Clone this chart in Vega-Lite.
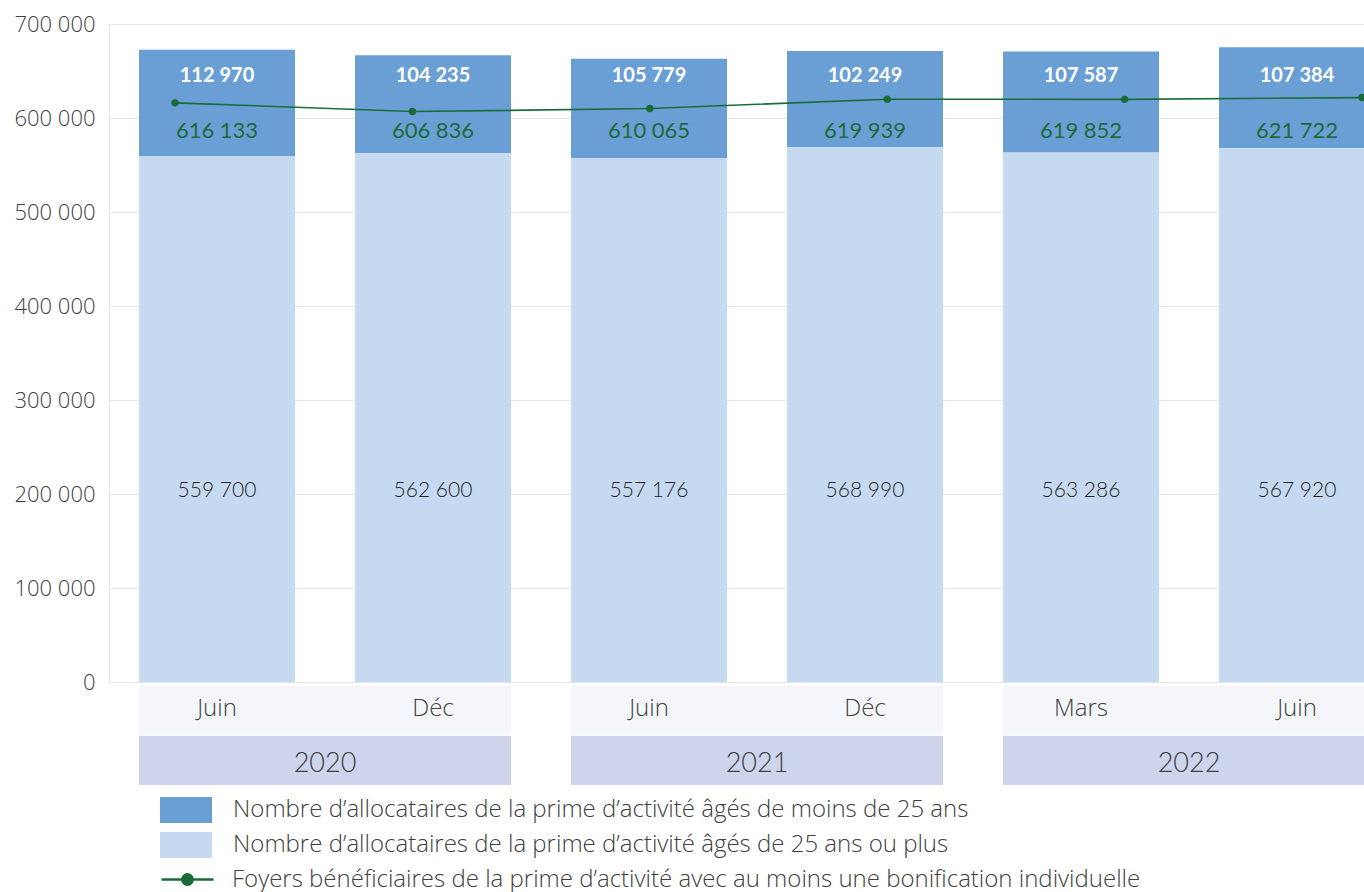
{
  "$schema": "https://vega.github.io/schema/vega-lite/v6.json",
  "width": 1255,
  "height": 658,
  "autosize": {"type": "none"},
  "padding": {"left": 109, "top": 24, "right": 0, "bottom": 210},
  "background": "white",
  "config": {
    "view": {"stroke": null},
    "font": "Lato",
    "locale": {"number": {"decimal": ",", "thousands": " ", "grouping": [3], "currency": ["", " €"]}}
  },
  "datasets": {
    "principal": [
      {"periode": "2020-06", "mois": "Juin", "annee": "2020", "moins25": 112970, "plus25": 559700, "foyers": 616133},
      {"periode": "2020-12", "mois": "Déc", "annee": "2020", "moins25": 104235, "plus25": 562600, "foyers": 606836},
      {"periode": "2021-06", "mois": "Juin", "annee": "2021", "moins25": 105779, "plus25": 557176, "foyers": 610065},
      {"periode": "2021-12", "mois": "Déc", "annee": "2021", "moins25": 102249, "plus25": 568990, "foyers": 619939},
      {"periode": "2022-03", "mois": "Mars", "annee": "2022", "moins25": 107587, "plus25": 563286, "foyers": 619852},
      {"periode": "2022-06", "mois": "Juin", "annee": "2022", "moins25": 107384, "plus25": 567920, "foyers": 621722}
    ],
    "annees": [
      {"annee": "2020", "debut": "2020-06", "fin": "2020-12"},
      {"annee": "2021", "debut": "2021-06", "fin": "2021-12"},
      {"annee": "2022", "debut": "2022-03", "fin": "2022-06"}
    ]
  },
  "data": {"name": "principal"},
  "resolve": {"scale": {"x": "independent", "y": "independent"}},
  "layer": [
    {
      "layer": [
        {
          "transform": [{"fold": ["moins25", "plus25"], "as": ["serie", "valeur"]}],
          "mark": {"type": "bar"},
          "encoding": {
            "x": {"field": "periode", "type": "nominal", "axis": null,
                  "scale": {"type": "band", "domain": ["2020-06", "2020-12", "2021-06", "2021-12", "2022-03", "2022-06"], "range": [0, 1296], "paddingInner": 0.2778, "paddingOuter": 0.1389}},
            "y": {"field": "valeur", "type": "quantitative", "stack": "zero",
                  "scale": {"domain": [0, 700000], "nice": false},
                  "axis": {"title": null, "values": [0, 100000, 200000, 300000, 400000, 500000, 600000, 700000], "format": ",d",
                           "labelFontSize": 22, "labelFont": "Open Sans", "labelFontWeight": 300, "labelColor": "#404040", "labelPadding": 14,
                           "ticks": false, "domainColor": "#e6e6e6", "gridColor": "#e6e6e6", "grid": true}},
            "fill": {"field": "serie", "type": "nominal",
                     "scale": {"domain": ["moins25", "plus25"], "range": ["#6a9fd5", "#c5daf1"]},
                     "legend": {"orient": "none", "legendX": 64, "legendY": 773, "title": null, "direction": "vertical",
                                "symbolType": "M-2,-1H2V1H-2Z", "symbolSize": 676, "symbolStrokeWidth": 0,
                                "labelFontSize": 24, "labelFont": "Open Sans", "labelFontWeight": 300, "labelColor": "#404040",
                                "labelOffset": 34, "rowPadding": 9, "labelLimit": 1200,
                                "labelExpr": "datum.label == 'moins25' ? 'Nombre d’allocataires de la prime d’activité  âgés de moins de 25 ans' : 'Nombre d’allocataires de la prime d’activité âgés de 25 ans ou plus'"}},
            "order": {"field": "serie", "sort": "descending"}
          }
        },
        {
          "mark": {"type": "text", "color": "white", "fontWeight": "bold", "fontSize": 20, "font": "Lato"},
          "encoding": {
            "x": {"field": "periode", "type": "nominal"},
            "y": {"datum": 645000},
            "text": {"field": "moins25", "type": "quantitative", "format": ",d"}
          }
        },
        {
          "mark": {"type": "text", "color": "#262626", "fontSize": 21, "font": "Lato", "fontWeight": 300},
          "encoding": {
            "x": {"field": "periode", "type": "nominal"},
            "y": {"datum": 203000},
            "text": {"field": "plus25", "type": "quantitative", "format": ",d"}
          }
        },
        {
          "mark": {"type": "text", "color": "#1d6b3b", "fontSize": 22, "font": "Lato", "fontWeight": 400},
          "encoding": {
            "x": {"field": "periode", "type": "nominal"},
            "y": {"datum": 586000},
            "text": {"field": "foyers", "type": "quantitative", "format": ",d"}
          }
        }
      ]
    },
    {
      "layer": [
        {
          "mark": {"type": "line", "strokeWidth": 1.6},
          "encoding": {
            "x": {"field": "periode", "type": "ordinal", "axis": null,
                  "scale": {"type": "point", "domain": ["2020-06", "2020-12", "2021-06", "2021-12", "2022-03", "2022-06"], "range": [66, 1253], "padding": 0}},
            "y": {"field": "foyers", "type": "quantitative", "axis": null, "scale": {"domain": [0, 700000], "nice": false}},
            "stroke": {"datum": "Foyers bénéficiaires de la prime d’activité avec au moins une bonification individuelle",
                       "scale": {"range": ["#1a6b3a"]},
                       "legend": {"orient": "none", "legendX": 64, "legendY": 841, "title": null,
                                  "symbolType": "M-2,0H2M-0.4,0a0.4,0.4 0 1,0 0.8,0a0.4,0.4 0 1,0 -0.8,0", "symbolSize": 676,
                                  "symbolStrokeWidth": 2.5, "symbolFillColor": "#1a6b3a",
                                  "labelFontSize": 24, "labelFont": "Open Sans", "labelFontWeight": 300, "labelColor": "#404040",
                                  "labelOffset": 30, "labelLimit": 1200}}
          }
        },
        {
          "mark": {"type": "circle", "size": 55, "opacity": 1, "color": "#1a6b3a"},
          "encoding": {
            "x": {"field": "periode", "type": "ordinal"},
            "y": {"field": "foyers", "type": "quantitative"}
          }
        }
      ]
    },
    {
      "layer": [
        {
          "data": {"name": "annees"},
          "mark": {"type": "rect", "color": "#f5f6fa"},
          "encoding": {
            "x": {"field": "debut", "type": "nominal", "bandPosition": 0, "axis": null,
                  "scale": {"type": "band", "domain": ["2020-06", "2020-12", "2021-06", "2021-12", "2022-03", "2022-06"], "range": [0, 1296], "paddingInner": 0.2778, "paddingOuter": 0.1389}},
            "x2": {"field": "fin", "bandPosition": 1},
            "y": {"datum": "mois", "type": "nominal", "axis": null,
                  "scale": {"type": "band", "domain": ["mois", "annee"], "range": [662, 761], "paddingInner": 0.02, "paddingOuter": 0}}
          }
        },
        {
          "data": {"name": "annees"},
          "mark": {"type": "rect", "color": "#cdd4eb"},
          "encoding": {
            "x": {"field": "debut", "type": "nominal", "bandPosition": 0},
            "x2": {"field": "fin", "bandPosition": 1},
            "y": {"datum": "annee", "type": "nominal"}
          }
        },
        {
          "mark": {"type": "text", "fontSize": 24, "font": "Open Sans", "fontWeight": 300, "color": "#404040", "dy": -2},
          "encoding": {
            "x": {"field": "periode", "type": "nominal"},
            "y": {"datum": "mois", "type": "nominal"},
            "text": {"field": "mois", "type": "nominal"}
          }
        },
        {
          "data": {"name": "annees"},
          "mark": {"type": "text", "fontSize": 27, "font": "Lato", "fontWeight": 300, "color": "#404040", "dy": 3},
          "encoding": {
            "x": {"field": "debut", "type": "nominal", "bandPosition": 1.1923},
            "y": {"datum": "annee", "type": "nominal"},
            "text": {"field": "annee", "type": "nominal"}
          }
        }
      ]
    }
  ]
}
